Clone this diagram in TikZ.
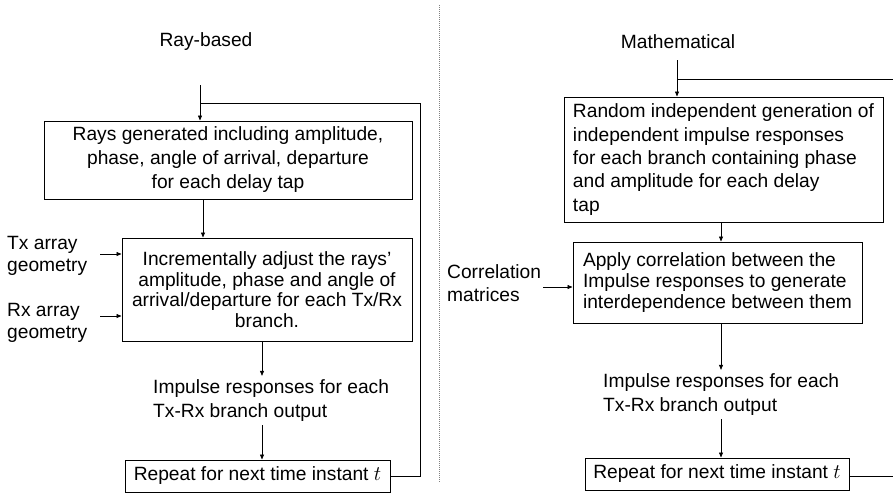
\documentclass[tikz,border=0pt]{standalone}
\usepackage{fontspec}
\setmainfont{Liberation Sans}
\usepackage{tikz}
\usetikzlibrary{arrows.meta,positioning,calc}
\begin{document}
\begin{tikzpicture}[
  x=1pt,
  y=-1pt,
  box/.style={
    rectangle,
    draw=black,
    line width=1pt,
    align=center,
    inner sep=2pt,
    font=\fontsize{19.2}{24}\selectfont
  },
  lbl/.style={
    align=left,
    inner sep=0pt,
    font=\fontsize{19.2}{24}\selectfont
  },
  arrow/.style={-{Triangle[length=5pt,width=4pt]}, line width=0.7pt},
  loop/.style={line width=1pt}
]
\useasboundingbox (0,0) rectangle (893,493);

% Left column: ray-based
\node[lbl] (titleL) at (206,42) {Ray-based};
\node[box, minimum width=368pt, minimum height=78pt] (raysL) at (228,160) {Rays generated including amplitude,\\phase, angle of arrival, departure\\for each delay tap};
\node[box, minimum width=290pt, minimum height=103pt, font=\fontsize{19.2}{20.6}\selectfont] (adjL) at (267,289.5) {Incrementally adjust the rays'\\amplitude, phase and angle of\\arrival/departure for each Tx/Rx\\branch.};
\node[lbl, anchor=west, font=\fontsize{19.2}{22}\selectfont] (txL) at (7,256) {Tx array\\geometry};
\node[lbl, anchor=west, font=\fontsize{19.2}{22}\selectfont] (rxL) at (7,323) {Rx array\\geometry};
\node[lbl, anchor=west] (impL) at (153,401) {Impulse responses for each\\Tx-Rx branch output};
\node[box, minimum width=265pt, minimum height=32pt] (repL) at (257.5,476) {Repeat for next time instant $t$};

\coordinate (inL) at (200,85);
\coordinate (fbL) at (420,103);

\draw[arrow] (inL) -- (inL |- raysL.north);
\draw[loop] (repL.east) -| (fbL) -- (inL |- fbL);
\draw[arrow] ([xshift=-25pt]raysL.south) -- ([xshift=-25pt]raysL.south |- adjL.north);
\draw[arrow] (100,254) coordinate (txE) -- (txE -| adjL.west);
\draw[arrow] (100,316) coordinate (rxE) -- (rxE -| adjL.west);
\draw[arrow] ([xshift=-5pt]adjL.south) -- ([xshift=-5pt,yshift=4pt]adjL.south |- impL.north);
\draw[arrow] ([xshift=-5pt,yshift=-3pt]adjL.south |- impL.south) -- ([xshift=-5pt]adjL.south |- repL.north);

% separator
\coordinate (sepTop) at (439,5);
\coordinate (sepBot) at (439,482);
\draw[gray, densely dotted, line width=1pt] (sepTop) -- (sepBot);

% Right column: mathematical
\node[lbl] (titleR) at (678,42) {Mathematical};
\node[box, align=left, minimum width=319pt, minimum height=125pt, font=\fontsize{19.2}{23.3}\selectfont] (genR) at (723.5,159.5) {Random independent generation of\\independent impulse responses\\for each branch containing phase\\and amplitude for each delay\\tap};
\node[box, align=left, minimum width=289pt, minimum height=81pt, font=\fontsize{19.2}{21}\selectfont] (corR) at (717.5,282.5) {Apply correlation between the\\Impulse responses to generate\\interdependence between them};
\node[lbl, anchor=west, font=\fontsize{19.2}{23}\selectfont] (matR) at (447,283) {Correlation\\matrices};
\node[lbl, anchor=west] (impR) at (603,395) {Impulse responses for each\\Tx-Rx branch output};
\node[box, minimum width=264pt, minimum height=32pt] (repR) at (717,474) {Repeat for next time instant $t$};

\coordinate (inR) at (677,60);
\coordinate (fbR) at (893,79);
\coordinate (outR) at (893,476);

\draw[arrow] (inR) -- (inR |- genR.north);
\draw[loop] (fbR) -- (inR |- fbR);
\draw[loop] (repR.east |- outR) -- (outR);
\draw[arrow] (721,0 |- genR.south) coordinate (gS) -- (gS |- corR.north);
\draw[arrow] (543,287) coordinate (mE) -- (mE -| corR.west);
\draw[arrow] (gS |- corR.south) -- ([yshift=4pt]gS |- impR.north);
\draw[arrow] ([yshift=-3pt]gS |- impR.south) -- (gS |- repR.north);
\end{tikzpicture}
\end{document}
